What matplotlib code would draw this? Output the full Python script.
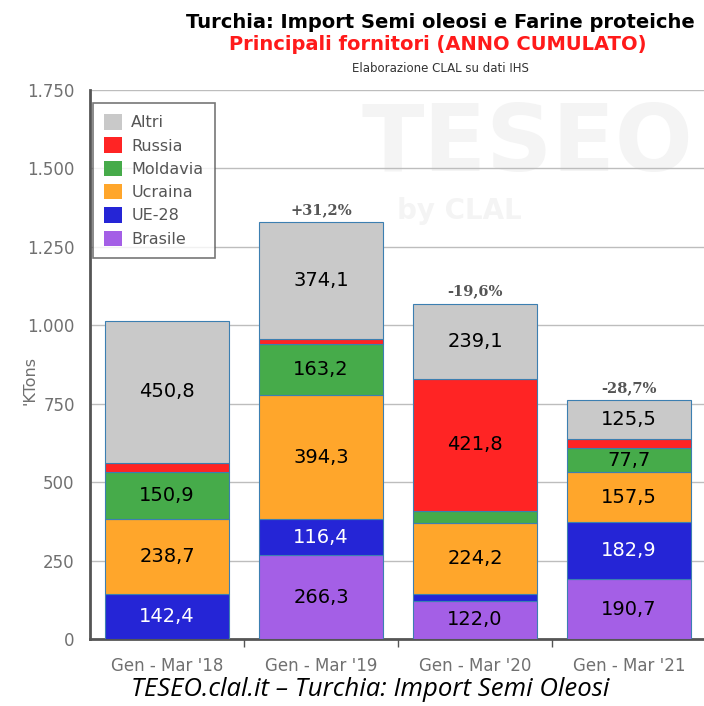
import matplotlib
matplotlib.use('Agg')
import matplotlib.pyplot as plt
import numpy as np

periods = ["Gen - Mar '18", "Gen - Mar '19", "Gen - Mar '20", "Gen - Mar '21"]
brasile = [0.0, 266.3, 122.0, 190.7]
ue28 = [142.4, 116.4, 22.0, 182.9]
ucraina = [238.7, 394.3, 224.2, 157.5]
moldavia = [150.9, 163.2, 40.0, 77.7]
russia = [30.0, 15.0, 421.8, 28.0]
altri = [450.8, 374.1, 239.1, 125.5]
changes = [None, '+31,2%', '-19,6%', '-28,7%']

series = [
    ('Brasile', brasile, '#a45fe6', 'black'),
    ('UE-28', ue28, '#2525d6', 'white'),
    ('Ucraina', ucraina, '#ffa62b', 'black'),
    ('Moldavia', moldavia, '#46ab4a', 'black'),
    ('Russia', russia, '#ff2424', 'black'),
    ('Altri', altri, '#c9c9c9', 'black'),
]
# segments too thin to carry a label
min_label = 60

fig = plt.figure(figsize=(7.04, 7.06), dpi=100)
ax = fig.add_axes([90/704, 1 - 639/706, 616/704, 549/706])

x = np.arange(len(periods))
width = 0.8
bottom = np.zeros(len(periods))
handles = []
for name, vals, color, tcolor in series:
    vals = np.array(vals)
    rects = ax.bar(x, vals, width, bottom=bottom, color=color,
                   edgecolor='#3c7fb1', linewidth=0.8, label=name, zorder=3)
    handles.append(rects)
    for xi, v, b in zip(x, vals, bottom):
        if v >= min_label:
            ax.text(xi, b + v / 2, '{:.1f}'.format(v).replace('.', ','),
                    ha='center', va='center', fontsize=14, color=tcolor, zorder=4)
    bottom += vals

for xi, tot, ch in zip(x, bottom, changes):
    if ch:
        ax.text(xi, tot + 16, ch, ha='center', va='bottom', fontsize=10.5,
                fontweight='bold', color='#555555', family='DejaVu Serif', zorder=4)

ax.set_xlim(-0.5, 3.5)
ax.set_ylim(0, 1750)
yt = np.arange(0, 1751, 250)
ax.set_yticks(yt)
ax.set_yticklabels(['{:,}'.format(v).replace(',', '.') for v in yt],
                   fontsize=12, color='#707070')
ax.tick_params(axis='y', length=0, pad=11)
ax.set_xticks(x)
ax.set_xticklabels(periods, fontsize=12, color='#707070')
ax.set_xticks(np.arange(0.5, 3.0, 1.0), minor=True)
ax.tick_params(axis='x', which='major', length=0, pad=13)
ax.tick_params(axis='x', which='minor', length=6, color='#555555', width=1)
ax.yaxis.grid(True, color='#bdbdbd', linewidth=1, zorder=0)
ax.set_axisbelow(True)
for s in ['top', 'right']:
    ax.spines[s].set_visible(False)
for s in ['left', 'bottom']:
    ax.spines[s].set_color('#555555')
    ax.spines[s].set_linewidth(2)
ax.set_ylabel("'KTons", fontsize=11.5, color='#707070')
ax.yaxis.set_label_coords(-52/616, 0.47)

# background watermark
ax.text(0.98, 0.90, 'TESEO', transform=ax.transAxes, ha='right', va='center',
        fontsize=66, fontweight='bold', color='#f4f4f4', zorder=0)
ax.text(0.60, 0.78, 'by CLAL', transform=ax.transAxes, ha='center', va='center',
        fontsize=20, fontweight='bold', color='#f4f4f4', zorder=0)

leg = ax.legend(handles[::-1], [s[0] for s in series][::-1], loc='upper left',
                bbox_to_anchor=(3/616, 1 - 13/549), borderaxespad=0,
                fontsize=11.5, frameon=True, fancybox=False,
                handlelength=1.1, handleheight=1.1,
                labelspacing=0.45, borderpad=0.7, handletextpad=0.6,
                labelcolor='#555555')
leg.get_frame().set_edgecolor('#555555')
leg.get_frame().set_linewidth(1.2)
for h in leg.legend_handles:
    h.set_edgecolor('none')

fig.text(440/704, 1 - 22/706, 'Turchia: Import Semi oleosi e Farine proteiche',
         ha='center', va='center', fontsize=14, fontweight='bold', color='black')
fig.text(438/704, 1 - 45/706, 'Principali fornitori (ANNO CUMULATO)',
         ha='center', va='center', fontsize=14, fontweight='bold', color='#ff1a1a')
fig.text(440/704, 1 - 68/706, 'Elaborazione CLAL su dati IHS',
         ha='center', va='center', fontsize=8.5, color='#333333')
fig.text(370/704, 1 - 690/706, 'TESEO.clal.it \u2013 Turchia: Import Semi Oleosi',
         ha='center', va='center', fontsize=18.5, style='italic', color='black',
         family='Open Sans')

plt.savefig('out.png', dpi=100)
